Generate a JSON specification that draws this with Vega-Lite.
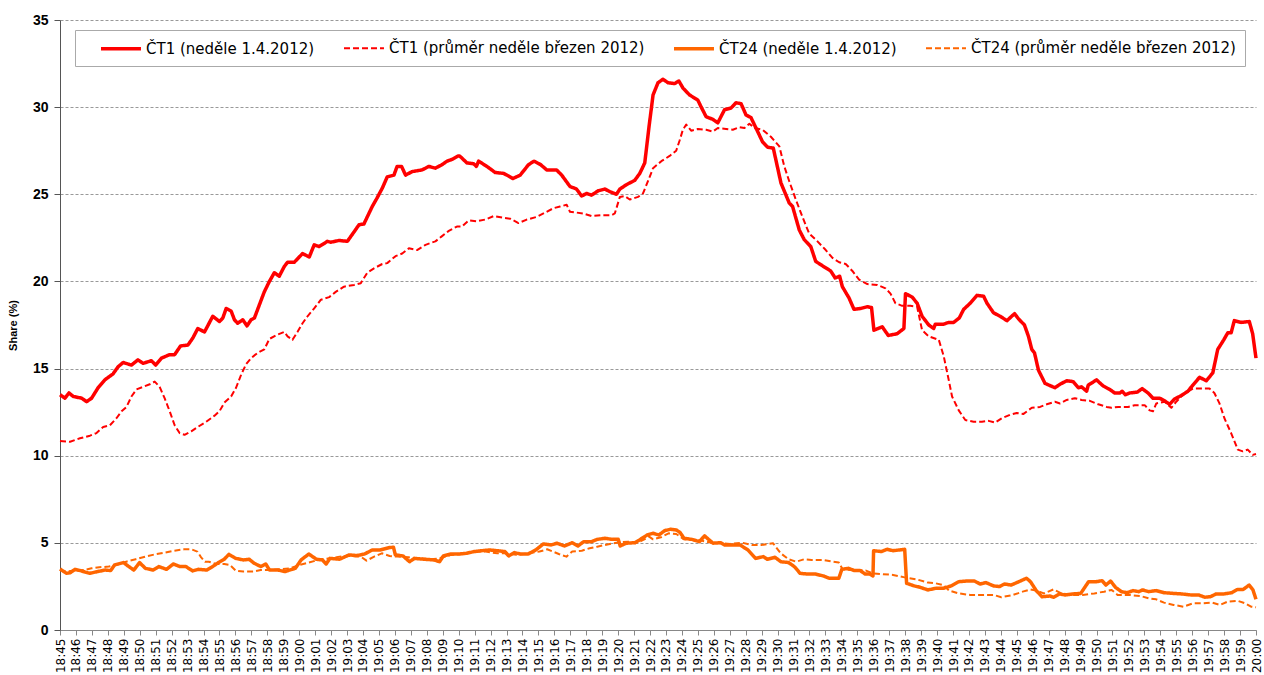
{
  "$schema": "https://vega.github.io/schema/vega-lite/v6.json",
  "width": 1196,
  "height": 610,
  "autosize": {"type": "none"},
  "padding": {"left": 60, "top": 20, "right": 8, "bottom": 45},
  "background": "white",
  "config": {
    "view": {"stroke": null},
    "font": "Liberation Sans"
  },
  "data": {
    "values": [
      {"series": "ČT1 (neděle 1.4.2012)", "minute": 0, "share": 13.5},
      {"series": "ČT1 (neděle 1.4.2012)", "minute": 0.31, "share": 13.3},
      {"series": "ČT1 (neděle 1.4.2012)", "minute": 0.56, "share": 13.6},
      {"series": "ČT1 (neděle 1.4.2012)", "minute": 0.83, "share": 13.4},
      {"series": "ČT1 (neděle 1.4.2012)", "minute": 1.36, "share": 13.3},
      {"series": "ČT1 (neděle 1.4.2012)", "minute": 1.67, "share": 13.1},
      {"series": "ČT1 (neděle 1.4.2012)", "minute": 1.98, "share": 13.3},
      {"series": "ČT1 (neděle 1.4.2012)", "minute": 2.39, "share": 13.9},
      {"series": "ČT1 (neděle 1.4.2012)", "minute": 2.81, "share": 14.35},
      {"series": "ČT1 (neděle 1.4.2012)", "minute": 3.33, "share": 14.7},
      {"series": "ČT1 (neděle 1.4.2012)", "minute": 3.64, "share": 15.1},
      {"series": "ČT1 (neděle 1.4.2012)", "minute": 3.96, "share": 15.35},
      {"series": "ČT1 (neděle 1.4.2012)", "minute": 4.48, "share": 15.2},
      {"series": "ČT1 (neděle 1.4.2012)", "minute": 4.89, "share": 15.5},
      {"series": "ČT1 (neděle 1.4.2012)", "minute": 5.21, "share": 15.3},
      {"series": "ČT1 (neděle 1.4.2012)", "minute": 5.73, "share": 15.45},
      {"series": "ČT1 (neděle 1.4.2012)", "minute": 6.0, "share": 15.2},
      {"series": "ČT1 (neděle 1.4.2012)", "minute": 6.36, "share": 15.6},
      {"series": "ČT1 (neděle 1.4.2012)", "minute": 6.88, "share": 15.8},
      {"series": "ČT1 (neděle 1.4.2012)", "minute": 7.19, "share": 15.8},
      {"series": "ČT1 (neděle 1.4.2012)", "minute": 7.56, "share": 16.3},
      {"series": "ČT1 (neděle 1.4.2012)", "minute": 8.02, "share": 16.35},
      {"series": "ČT1 (neděle 1.4.2012)", "minute": 8.33, "share": 16.75},
      {"series": "ČT1 (neděle 1.4.2012)", "minute": 8.64, "share": 17.3},
      {"series": "ČT1 (neděle 1.4.2012)", "minute": 9.06, "share": 17.1},
      {"series": "ČT1 (neděle 1.4.2012)", "minute": 9.58, "share": 18.0},
      {"series": "ČT1 (neděle 1.4.2012)", "minute": 10.0, "share": 17.7},
      {"series": "ČT1 (neděle 1.4.2012)", "minute": 10.21, "share": 17.9},
      {"series": "ČT1 (neděle 1.4.2012)", "minute": 10.42, "share": 18.45},
      {"series": "ČT1 (neděle 1.4.2012)", "minute": 10.73, "share": 18.3},
      {"series": "ČT1 (neděle 1.4.2012)", "minute": 10.94, "share": 17.8},
      {"series": "ČT1 (neděle 1.4.2012)", "minute": 11.14, "share": 17.6},
      {"series": "ČT1 (neděle 1.4.2012)", "minute": 11.46, "share": 17.8},
      {"series": "ČT1 (neděle 1.4.2012)", "minute": 11.73, "share": 17.45},
      {"series": "ČT1 (neděle 1.4.2012)", "minute": 11.98, "share": 17.8},
      {"series": "ČT1 (neděle 1.4.2012)", "minute": 12.19, "share": 17.9},
      {"series": "ČT1 (neděle 1.4.2012)", "minute": 12.5, "share": 18.65},
      {"series": "ČT1 (neděle 1.4.2012)", "minute": 12.81, "share": 19.4},
      {"series": "ČT1 (neděle 1.4.2012)", "minute": 13.13, "share": 20.0},
      {"series": "ČT1 (neděle 1.4.2012)", "minute": 13.44, "share": 20.5},
      {"series": "ČT1 (neděle 1.4.2012)", "minute": 13.75, "share": 20.3},
      {"series": "ČT1 (neděle 1.4.2012)", "minute": 14.06, "share": 20.85},
      {"series": "ČT1 (neděle 1.4.2012)", "minute": 14.27, "share": 21.1},
      {"series": "ČT1 (neděle 1.4.2012)", "minute": 14.69, "share": 21.1},
      {"series": "ČT1 (neděle 1.4.2012)", "minute": 15.21, "share": 21.6},
      {"series": "ČT1 (neděle 1.4.2012)", "minute": 15.63, "share": 21.4},
      {"series": "ČT1 (neděle 1.4.2012)", "minute": 15.94, "share": 22.1},
      {"series": "ČT1 (neděle 1.4.2012)", "minute": 16.25, "share": 22.0},
      {"series": "ČT1 (neděle 1.4.2012)", "minute": 16.77, "share": 22.3},
      {"series": "ČT1 (neděle 1.4.2012)", "minute": 16.98, "share": 22.25},
      {"series": "ČT1 (neděle 1.4.2012)", "minute": 17.5, "share": 22.35},
      {"series": "ČT1 (neděle 1.4.2012)", "minute": 18.02, "share": 22.3},
      {"series": "ČT1 (neděle 1.4.2012)", "minute": 18.33, "share": 22.7},
      {"series": "ČT1 (neděle 1.4.2012)", "minute": 18.75, "share": 23.25},
      {"series": "ČT1 (neděle 1.4.2012)", "minute": 19.06, "share": 23.3},
      {"series": "ČT1 (neděle 1.4.2012)", "minute": 19.58, "share": 24.3},
      {"series": "ČT1 (neděle 1.4.2012)", "minute": 19.89, "share": 24.8},
      {"series": "ČT1 (neděle 1.4.2012)", "minute": 20.21, "share": 25.35},
      {"series": "ČT1 (neděle 1.4.2012)", "minute": 20.52, "share": 26.0},
      {"series": "ČT1 (neděle 1.4.2012)", "minute": 20.94, "share": 26.1},
      {"series": "ČT1 (neděle 1.4.2012)", "minute": 21.14, "share": 26.6},
      {"series": "ČT1 (neděle 1.4.2012)", "minute": 21.42, "share": 26.6},
      {"series": "ČT1 (neděle 1.4.2012)", "minute": 21.67, "share": 26.1},
      {"series": "ČT1 (neděle 1.4.2012)", "minute": 22.08, "share": 26.3},
      {"series": "ČT1 (neděle 1.4.2012)", "minute": 22.71, "share": 26.4},
      {"series": "ČT1 (neděle 1.4.2012)", "minute": 23.13, "share": 26.6},
      {"series": "ČT1 (neděle 1.4.2012)", "minute": 23.54, "share": 26.5},
      {"series": "ČT1 (neděle 1.4.2012)", "minute": 23.96, "share": 26.7},
      {"series": "ČT1 (neděle 1.4.2012)", "minute": 24.27, "share": 26.9},
      {"series": "ČT1 (neděle 1.4.2012)", "minute": 24.58, "share": 27.0},
      {"series": "ČT1 (neděle 1.4.2012)", "minute": 24.96, "share": 27.2},
      {"series": "ČT1 (neděle 1.4.2012)", "minute": 25.06, "share": 27.2},
      {"series": "ČT1 (neděle 1.4.2012)", "minute": 25.52, "share": 26.8},
      {"series": "ČT1 (neděle 1.4.2012)", "minute": 25.94, "share": 26.75},
      {"series": "ČT1 (neděle 1.4.2012)", "minute": 26.11, "share": 26.6},
      {"series": "ČT1 (neděle 1.4.2012)", "minute": 26.25, "share": 26.9},
      {"series": "ČT1 (neděle 1.4.2012)", "minute": 26.77, "share": 26.6},
      {"series": "ČT1 (neděle 1.4.2012)", "minute": 27.29, "share": 26.25},
      {"series": "ČT1 (neděle 1.4.2012)", "minute": 27.81, "share": 26.2},
      {"series": "ČT1 (neděle 1.4.2012)", "minute": 28.13, "share": 26.05},
      {"series": "ČT1 (neděle 1.4.2012)", "minute": 28.39, "share": 25.9},
      {"series": "ČT1 (neděle 1.4.2012)", "minute": 28.86, "share": 26.1},
      {"series": "ČT1 (neděle 1.4.2012)", "minute": 29.38, "share": 26.7},
      {"series": "ČT1 (neděle 1.4.2012)", "minute": 29.73, "share": 26.9},
      {"series": "ČT1 (neděle 1.4.2012)", "minute": 30.14, "share": 26.7},
      {"series": "ČT1 (neděle 1.4.2012)", "minute": 30.52, "share": 26.4},
      {"series": "ČT1 (neděle 1.4.2012)", "minute": 31.14, "share": 26.4},
      {"series": "ČT1 (neděle 1.4.2012)", "minute": 31.46, "share": 26.1},
      {"series": "ČT1 (neděle 1.4.2012)", "minute": 31.98, "share": 25.45},
      {"series": "ČT1 (neděle 1.4.2012)", "minute": 32.39, "share": 25.3},
      {"series": "ČT1 (neděle 1.4.2012)", "minute": 32.71, "share": 24.9},
      {"series": "ČT1 (neděle 1.4.2012)", "minute": 33.02, "share": 25.05},
      {"series": "ČT1 (neděle 1.4.2012)", "minute": 33.33, "share": 24.95},
      {"series": "ČT1 (neděle 1.4.2012)", "minute": 33.75, "share": 25.2},
      {"series": "ČT1 (neděle 1.4.2012)", "minute": 34.17, "share": 25.3},
      {"series": "ČT1 (neděle 1.4.2012)", "minute": 34.48, "share": 25.15},
      {"series": "ČT1 (neděle 1.4.2012)", "minute": 34.89, "share": 25.0},
      {"series": "ČT1 (neděle 1.4.2012)", "minute": 35.11, "share": 25.3},
      {"series": "ČT1 (neděle 1.4.2012)", "minute": 35.52, "share": 25.55},
      {"series": "ČT1 (neděle 1.4.2012)", "minute": 36.04, "share": 25.8},
      {"series": "ČT1 (neděle 1.4.2012)", "minute": 36.36, "share": 26.2},
      {"series": "ČT1 (neděle 1.4.2012)", "minute": 36.67, "share": 26.8},
      {"series": "ČT1 (neděle 1.4.2012)", "minute": 36.94, "share": 28.9},
      {"series": "ČT1 (neděle 1.4.2012)", "minute": 37.19, "share": 30.7},
      {"series": "ČT1 (neděle 1.4.2012)", "minute": 37.5, "share": 31.4},
      {"series": "ČT1 (neděle 1.4.2012)", "minute": 37.81, "share": 31.6},
      {"series": "ČT1 (neděle 1.4.2012)", "minute": 38.13, "share": 31.4},
      {"series": "ČT1 (neděle 1.4.2012)", "minute": 38.54, "share": 31.35},
      {"series": "ČT1 (neděle 1.4.2012)", "minute": 38.81, "share": 31.5},
      {"series": "ČT1 (neděle 1.4.2012)", "minute": 39.06, "share": 31.1},
      {"series": "ČT1 (neděle 1.4.2012)", "minute": 39.48, "share": 30.7},
      {"series": "ČT1 (neděle 1.4.2012)", "minute": 40.0, "share": 30.4},
      {"series": "ČT1 (neděle 1.4.2012)", "minute": 40.21, "share": 30.0},
      {"series": "ČT1 (neděle 1.4.2012)", "minute": 40.52, "share": 29.45},
      {"series": "ČT1 (neděle 1.4.2012)", "minute": 40.94, "share": 29.3},
      {"series": "ČT1 (neděle 1.4.2012)", "minute": 41.25, "share": 29.1},
      {"series": "ČT1 (neděle 1.4.2012)", "minute": 41.67, "share": 29.85},
      {"series": "ČT1 (neděle 1.4.2012)", "minute": 42.08, "share": 29.95},
      {"series": "ČT1 (neděle 1.4.2012)", "minute": 42.39, "share": 30.25},
      {"series": "ČT1 (neděle 1.4.2012)", "minute": 42.71, "share": 30.2},
      {"series": "ČT1 (neděle 1.4.2012)", "minute": 43.02, "share": 29.55},
      {"series": "ČT1 (neděle 1.4.2012)", "minute": 43.33, "share": 29.4},
      {"series": "ČT1 (neděle 1.4.2012)", "minute": 43.75, "share": 28.6},
      {"series": "ČT1 (neděle 1.4.2012)", "minute": 44.06, "share": 28.0},
      {"series": "ČT1 (neděle 1.4.2012)", "minute": 44.38, "share": 27.7},
      {"series": "ČT1 (neděle 1.4.2012)", "minute": 44.73, "share": 27.65},
      {"series": "ČT1 (neděle 1.4.2012)", "minute": 45.21, "share": 25.65},
      {"series": "ČT1 (neděle 1.4.2012)", "minute": 45.73, "share": 24.5},
      {"series": "ČT1 (neděle 1.4.2012)", "minute": 45.94, "share": 24.3},
      {"series": "ČT1 (neděle 1.4.2012)", "minute": 46.36, "share": 22.95},
      {"series": "ČT1 (neděle 1.4.2012)", "minute": 46.67, "share": 22.4},
      {"series": "ČT1 (neděle 1.4.2012)", "minute": 47.08, "share": 22.0},
      {"series": "ČT1 (neděle 1.4.2012)", "minute": 47.39, "share": 21.15},
      {"series": "ČT1 (neděle 1.4.2012)", "minute": 47.81, "share": 20.9},
      {"series": "ČT1 (neděle 1.4.2012)", "minute": 48.33, "share": 20.6},
      {"series": "ČT1 (neděle 1.4.2012)", "minute": 48.61, "share": 20.2},
      {"series": "ČT1 (neděle 1.4.2012)", "minute": 48.89, "share": 20.3},
      {"series": "ČT1 (neděle 1.4.2012)", "minute": 49.06, "share": 19.7},
      {"series": "ČT1 (neděle 1.4.2012)", "minute": 49.48, "share": 19.05},
      {"series": "ČT1 (neděle 1.4.2012)", "minute": 49.79, "share": 18.4},
      {"series": "ČT1 (neděle 1.4.2012)", "minute": 50.21, "share": 18.45},
      {"series": "ČT1 (neděle 1.4.2012)", "minute": 50.63, "share": 18.55},
      {"series": "ČT1 (neděle 1.4.2012)", "minute": 50.89, "share": 18.5},
      {"series": "ČT1 (neděle 1.4.2012)", "minute": 51.04, "share": 17.2},
      {"series": "ČT1 (neděle 1.4.2012)", "minute": 51.56, "share": 17.4},
      {"series": "ČT1 (neděle 1.4.2012)", "minute": 51.94, "share": 16.9},
      {"series": "ČT1 (neděle 1.4.2012)", "minute": 52.5, "share": 17.0},
      {"series": "ČT1 (neděle 1.4.2012)", "minute": 52.92, "share": 17.3},
      {"series": "ČT1 (neděle 1.4.2012)", "minute": 53.02, "share": 19.3},
      {"series": "ČT1 (neděle 1.4.2012)", "minute": 53.44, "share": 19.1},
      {"series": "ČT1 (neděle 1.4.2012)", "minute": 53.75, "share": 18.75},
      {"series": "ČT1 (neděle 1.4.2012)", "minute": 54.06, "share": 18.0},
      {"series": "ČT1 (neděle 1.4.2012)", "minute": 54.48, "share": 17.5},
      {"series": "ČT1 (neděle 1.4.2012)", "minute": 54.79, "share": 17.3},
      {"series": "ČT1 (neděle 1.4.2012)", "minute": 54.89, "share": 17.55},
      {"series": "ČT1 (neděle 1.4.2012)", "minute": 55.42, "share": 17.55},
      {"series": "ČT1 (neděle 1.4.2012)", "minute": 55.73, "share": 17.65},
      {"series": "ČT1 (neděle 1.4.2012)", "minute": 56.04, "share": 17.65},
      {"series": "ČT1 (neděle 1.4.2012)", "minute": 56.39, "share": 17.9},
      {"series": "ČT1 (neděle 1.4.2012)", "minute": 56.67, "share": 18.4},
      {"series": "ČT1 (neděle 1.4.2012)", "minute": 57.08, "share": 18.75},
      {"series": "ČT1 (neděle 1.4.2012)", "minute": 57.5, "share": 19.2},
      {"series": "ČT1 (neděle 1.4.2012)", "minute": 57.92, "share": 19.15},
      {"series": "ČT1 (neděle 1.4.2012)", "minute": 58.13, "share": 18.75},
      {"series": "ČT1 (neděle 1.4.2012)", "minute": 58.54, "share": 18.2},
      {"series": "ČT1 (neděle 1.4.2012)", "minute": 58.96, "share": 18.0},
      {"series": "ČT1 (neděle 1.4.2012)", "minute": 59.38, "share": 17.75},
      {"series": "ČT1 (neděle 1.4.2012)", "minute": 59.86, "share": 18.15},
      {"series": "ČT1 (neděle 1.4.2012)", "minute": 60.11, "share": 17.85},
      {"series": "ČT1 (neděle 1.4.2012)", "minute": 60.48, "share": 17.5},
      {"series": "ČT1 (neděle 1.4.2012)", "minute": 60.73, "share": 16.85},
      {"series": "ČT1 (neděle 1.4.2012)", "minute": 60.94, "share": 16.1},
      {"series": "ČT1 (neděle 1.4.2012)", "minute": 61.11, "share": 15.9},
      {"series": "ČT1 (neděle 1.4.2012)", "minute": 61.36, "share": 14.9},
      {"series": "ČT1 (neděle 1.4.2012)", "minute": 61.77, "share": 14.15},
      {"series": "ČT1 (neděle 1.4.2012)", "minute": 62.39, "share": 13.9},
      {"series": "ČT1 (neděle 1.4.2012)", "minute": 62.71, "share": 14.1},
      {"series": "ČT1 (neděle 1.4.2012)", "minute": 63.13, "share": 14.3},
      {"series": "ČT1 (neděle 1.4.2012)", "minute": 63.54, "share": 14.25},
      {"series": "ČT1 (neděle 1.4.2012)", "minute": 63.86, "share": 13.9},
      {"series": "ČT1 (neděle 1.4.2012)", "minute": 64.06, "share": 13.95},
      {"series": "ČT1 (neděle 1.4.2012)", "minute": 64.38, "share": 13.7},
      {"series": "ČT1 (neděle 1.4.2012)", "minute": 64.48, "share": 14.05},
      {"series": "ČT1 (neděle 1.4.2012)", "minute": 65.0, "share": 14.35},
      {"series": "ČT1 (neděle 1.4.2012)", "minute": 65.42, "share": 14.0},
      {"series": "ČT1 (neděle 1.4.2012)", "minute": 65.83, "share": 13.8},
      {"series": "ČT1 (neděle 1.4.2012)", "minute": 66.14, "share": 13.6},
      {"series": "ČT1 (neděle 1.4.2012)", "minute": 66.46, "share": 13.6},
      {"series": "ČT1 (neděle 1.4.2012)", "minute": 66.61, "share": 13.7},
      {"series": "ČT1 (neděle 1.4.2012)", "minute": 66.81, "share": 13.5},
      {"series": "ČT1 (neděle 1.4.2012)", "minute": 67.08, "share": 13.6},
      {"series": "ČT1 (neděle 1.4.2012)", "minute": 67.56, "share": 13.65},
      {"series": "ČT1 (neděle 1.4.2012)", "minute": 67.86, "share": 13.85},
      {"series": "ČT1 (neděle 1.4.2012)", "minute": 68.23, "share": 13.6},
      {"series": "ČT1 (neděle 1.4.2012)", "minute": 68.54, "share": 13.3},
      {"series": "ČT1 (neděle 1.4.2012)", "minute": 68.96, "share": 13.3},
      {"series": "ČT1 (neděle 1.4.2012)", "minute": 69.27, "share": 13.15},
      {"series": "ČT1 (neděle 1.4.2012)", "minute": 69.58, "share": 12.95},
      {"series": "ČT1 (neděle 1.4.2012)", "minute": 69.89, "share": 13.25},
      {"series": "ČT1 (neděle 1.4.2012)", "minute": 70.31, "share": 13.45},
      {"series": "ČT1 (neděle 1.4.2012)", "minute": 70.73, "share": 13.7},
      {"series": "ČT1 (neděle 1.4.2012)", "minute": 71.04, "share": 14.05},
      {"series": "ČT1 (neděle 1.4.2012)", "minute": 71.46, "share": 14.5},
      {"series": "ČT1 (neděle 1.4.2012)", "minute": 71.88, "share": 14.3},
      {"series": "ČT1 (neděle 1.4.2012)", "minute": 72.29, "share": 14.75},
      {"series": "ČT1 (neděle 1.4.2012)", "minute": 72.6, "share": 16.1},
      {"series": "ČT1 (neděle 1.4.2012)", "minute": 72.98, "share": 16.65},
      {"series": "ČT1 (neděle 1.4.2012)", "minute": 73.23, "share": 17.05},
      {"series": "ČT1 (neděle 1.4.2012)", "minute": 73.44, "share": 17.05},
      {"series": "ČT1 (neděle 1.4.2012)", "minute": 73.64, "share": 17.75},
      {"series": "ČT1 (neděle 1.4.2012)", "minute": 74.06, "share": 17.65},
      {"series": "ČT1 (neděle 1.4.2012)", "minute": 74.58, "share": 17.7},
      {"series": "ČT1 (neděle 1.4.2012)", "minute": 74.79, "share": 17.0},
      {"series": "ČT1 (neděle 1.4.2012)", "minute": 75, "share": 15.6},

      {"series": "ČT1 (průměr neděle březen 2012)", "minute": 0, "share": 10.85},
      {"series": "ČT1 (průměr neděle březen 2012)", "minute": 0.63, "share": 10.8},
      {"series": "ČT1 (průměr neděle březen 2012)", "minute": 1.25, "share": 11.0},
      {"series": "ČT1 (průměr neděle březen 2012)", "minute": 1.88, "share": 11.15},
      {"series": "ČT1 (průměr neděle březen 2012)", "minute": 2.29, "share": 11.3},
      {"series": "ČT1 (průměr neděle březen 2012)", "minute": 2.71, "share": 11.65},
      {"series": "ČT1 (průměr neděle březen 2012)", "minute": 3.13, "share": 11.75},
      {"series": "ČT1 (průměr neděle březen 2012)", "minute": 3.54, "share": 12.15},
      {"series": "ČT1 (průměr neděle březen 2012)", "minute": 3.86, "share": 12.55},
      {"series": "ČT1 (průměr neděle březen 2012)", "minute": 4.17, "share": 12.8},
      {"series": "ČT1 (průměr neděle březen 2012)", "minute": 4.48, "share": 13.4},
      {"series": "ČT1 (průměr neděle březen 2012)", "minute": 4.79, "share": 13.8},
      {"series": "ČT1 (průměr neděle březen 2012)", "minute": 5.21, "share": 13.95},
      {"series": "ČT1 (průměr neděle březen 2012)", "minute": 5.63, "share": 14.1},
      {"series": "ČT1 (průměr neděle březen 2012)", "minute": 5.94, "share": 14.25},
      {"series": "ČT1 (průměr neděle březen 2012)", "minute": 6.25, "share": 13.95},
      {"series": "ČT1 (průměr neděle březen 2012)", "minute": 6.56, "share": 13.3},
      {"series": "ČT1 (průměr neděle březen 2012)", "minute": 6.88, "share": 12.55},
      {"series": "ČT1 (průměr neděle březen 2012)", "minute": 7.19, "share": 11.75},
      {"series": "ČT1 (průměr neděle březen 2012)", "minute": 7.5, "share": 11.3},
      {"series": "ČT1 (průměr neděle březen 2012)", "minute": 7.81, "share": 11.2},
      {"series": "ČT1 (průměr neděle březen 2012)", "minute": 8.23, "share": 11.4},
      {"series": "ČT1 (průměr neděle březen 2012)", "minute": 8.64, "share": 11.65},
      {"series": "ČT1 (průměr neděle březen 2012)", "minute": 9.17, "share": 11.95},
      {"series": "ČT1 (průměr neděle březen 2012)", "minute": 9.69, "share": 12.3},
      {"series": "ČT1 (průměr neděle březen 2012)", "minute": 10.0, "share": 12.55},
      {"series": "ČT1 (průměr neděle březen 2012)", "minute": 10.31, "share": 13.05},
      {"series": "ČT1 (průměr neděle březen 2012)", "minute": 10.73, "share": 13.4},
      {"series": "ČT1 (průměr neděle březen 2012)", "minute": 11.04, "share": 13.9},
      {"series": "ČT1 (průměr neděle březen 2012)", "minute": 11.36, "share": 14.65},
      {"series": "ČT1 (průměr neděle březen 2012)", "minute": 11.67, "share": 15.25},
      {"series": "ČT1 (průměr neděle březen 2012)", "minute": 11.98, "share": 15.6},
      {"series": "ČT1 (průměr neděle březen 2012)", "minute": 12.39, "share": 15.9},
      {"series": "ČT1 (průměr neděle březen 2012)", "minute": 12.81, "share": 16.1},
      {"series": "ČT1 (průměr neděle březen 2012)", "minute": 13.13, "share": 16.7},
      {"series": "ČT1 (průměr neděle březen 2012)", "minute": 13.64, "share": 16.95},
      {"series": "ČT1 (průměr neděle březen 2012)", "minute": 14.06, "share": 17.1},
      {"series": "ČT1 (průměr neděle březen 2012)", "minute": 14.27, "share": 16.85},
      {"series": "ČT1 (průměr neděle březen 2012)", "minute": 14.58, "share": 16.65},
      {"series": "ČT1 (průměr neděle březen 2012)", "minute": 14.89, "share": 17.1},
      {"series": "ČT1 (průměr neděle březen 2012)", "minute": 15.21, "share": 17.6},
      {"series": "ČT1 (průměr neděle březen 2012)", "minute": 15.52, "share": 18.0},
      {"series": "ČT1 (průměr neděle březen 2012)", "minute": 15.94, "share": 18.45},
      {"series": "ČT1 (průměr neděle březen 2012)", "minute": 16.36, "share": 18.95},
      {"series": "ČT1 (průměr neděle březen 2012)", "minute": 16.88, "share": 19.1},
      {"series": "ČT1 (průměr neděle březen 2012)", "minute": 17.29, "share": 19.4},
      {"series": "ČT1 (průměr neděle březen 2012)", "minute": 17.81, "share": 19.7},
      {"series": "ČT1 (průměr neděle březen 2012)", "minute": 18.44, "share": 19.8},
      {"series": "ČT1 (průměr neděle březen 2012)", "minute": 18.86, "share": 19.9},
      {"series": "ČT1 (průměr neděle březen 2012)", "minute": 19.27, "share": 20.5},
      {"series": "ČT1 (průměr neděle březen 2012)", "minute": 19.69, "share": 20.75},
      {"series": "ČT1 (průměr neděle březen 2012)", "minute": 20.21, "share": 21.0},
      {"series": "ČT1 (průměr neděle březen 2012)", "minute": 20.52, "share": 21.05},
      {"series": "ČT1 (průměr neděle březen 2012)", "minute": 21.04, "share": 21.45},
      {"series": "ČT1 (průměr neděle březen 2012)", "minute": 21.46, "share": 21.6},
      {"series": "ČT1 (průměr neděle březen 2012)", "minute": 21.88, "share": 21.9},
      {"series": "ČT1 (průměr neděle březen 2012)", "minute": 22.39, "share": 21.8},
      {"series": "ČT1 (průměr neděle březen 2012)", "minute": 22.92, "share": 22.1},
      {"series": "ČT1 (průměr neděle březen 2012)", "minute": 23.54, "share": 22.3},
      {"series": "ČT1 (průměr neděle březen 2012)", "minute": 23.96, "share": 22.6},
      {"series": "ČT1 (průměr neděle březen 2012)", "minute": 24.38, "share": 22.9},
      {"series": "ČT1 (průměr neděle březen 2012)", "minute": 24.89, "share": 23.15},
      {"series": "ČT1 (průměr neděle březen 2012)", "minute": 25.21, "share": 23.15},
      {"series": "ČT1 (průměr neděle březen 2012)", "minute": 25.63, "share": 23.5},
      {"series": "ČT1 (průměr neděle březen 2012)", "minute": 26.14, "share": 23.45},
      {"series": "ČT1 (průměr neděle březen 2012)", "minute": 26.67, "share": 23.55},
      {"series": "ČT1 (průměr neděle březen 2012)", "minute": 27.19, "share": 23.75},
      {"series": "ČT1 (průměr neděle březen 2012)", "minute": 27.81, "share": 23.65},
      {"series": "ČT1 (průměr neděle březen 2012)", "minute": 28.23, "share": 23.6},
      {"series": "ČT1 (průměr neděle březen 2012)", "minute": 28.75, "share": 23.35},
      {"series": "ČT1 (průměr neděle březen 2012)", "minute": 29.27, "share": 23.55},
      {"series": "ČT1 (průměr neděle březen 2012)", "minute": 29.89, "share": 23.7},
      {"series": "ČT1 (průměr neděle březen 2012)", "minute": 30.42, "share": 23.95},
      {"series": "ČT1 (průměr neděle březen 2012)", "minute": 30.94, "share": 24.2},
      {"series": "ČT1 (průměr neděle březen 2012)", "minute": 31.36, "share": 24.3},
      {"series": "ČT1 (průměr neděle březen 2012)", "minute": 31.77, "share": 24.4},
      {"series": "ČT1 (průměr neděle březen 2012)", "minute": 31.98, "share": 24.0},
      {"series": "ČT1 (průměr neděle březen 2012)", "minute": 32.39, "share": 23.95},
      {"series": "ČT1 (průměr neděle březen 2012)", "minute": 32.81, "share": 23.9},
      {"series": "ČT1 (průměr neděle březen 2012)", "minute": 33.33, "share": 23.75},
      {"series": "ČT1 (průměr neděle březen 2012)", "minute": 33.96, "share": 23.8},
      {"series": "ČT1 (průměr neděle březen 2012)", "minute": 34.58, "share": 23.8},
      {"series": "ČT1 (průměr neděle březen 2012)", "minute": 34.79, "share": 23.9},
      {"series": "ČT1 (průměr neděle březen 2012)", "minute": 35.11, "share": 24.85},
      {"series": "ČT1 (průměr neděle březen 2012)", "minute": 35.42, "share": 24.9},
      {"series": "ČT1 (průměr neděle březen 2012)", "minute": 35.73, "share": 24.7},
      {"series": "ČT1 (průměr neděle březen 2012)", "minute": 36.25, "share": 24.85},
      {"series": "ČT1 (průměr neděle březen 2012)", "minute": 36.56, "share": 25.05},
      {"series": "ČT1 (průměr neděle březen 2012)", "minute": 36.98, "share": 26.0},
      {"series": "ČT1 (průměr neděle březen 2012)", "minute": 37.19, "share": 26.5},
      {"series": "ČT1 (průměr neděle březen 2012)", "minute": 37.71, "share": 26.9},
      {"series": "ČT1 (průměr neděle březen 2012)", "minute": 38.23, "share": 27.2},
      {"series": "ČT1 (průměr neděle březen 2012)", "minute": 38.64, "share": 27.5},
      {"series": "ČT1 (průměr neděle březen 2012)", "minute": 38.86, "share": 28.1},
      {"series": "ČT1 (průměr neděle březen 2012)", "minute": 39.06, "share": 28.7},
      {"series": "ČT1 (průměr neděle březen 2012)", "minute": 39.27, "share": 29.0},
      {"series": "ČT1 (průměr neděle březen 2012)", "minute": 39.58, "share": 28.65},
      {"series": "ČT1 (průměr neděle březen 2012)", "minute": 40.0, "share": 28.75},
      {"series": "ČT1 (průměr neděle březen 2012)", "minute": 40.52, "share": 28.7},
      {"series": "ČT1 (průměr neděle březen 2012)", "minute": 40.94, "share": 28.6},
      {"series": "ČT1 (průměr neděle březen 2012)", "minute": 41.25, "share": 28.8},
      {"series": "ČT1 (průměr neděle březen 2012)", "minute": 41.77, "share": 28.75},
      {"series": "ČT1 (průměr neděle březen 2012)", "minute": 42.19, "share": 28.7},
      {"series": "ČT1 (průměr neděle březen 2012)", "minute": 42.61, "share": 28.85},
      {"series": "ČT1 (průměr neděle březen 2012)", "minute": 42.92, "share": 28.8},
      {"series": "ČT1 (průměr neděle březen 2012)", "minute": 43.23, "share": 29.05},
      {"series": "ČT1 (průměr neděle březen 2012)", "minute": 43.54, "share": 28.8},
      {"series": "ČT1 (průměr neděle březen 2012)", "minute": 44.06, "share": 28.7},
      {"series": "ČT1 (průměr neděle březen 2012)", "minute": 44.58, "share": 28.3},
      {"series": "ČT1 (průměr neděle březen 2012)", "minute": 45.11, "share": 27.75},
      {"series": "ČT1 (průměr neděle březen 2012)", "minute": 45.42, "share": 26.6},
      {"series": "ČT1 (průměr neděle březen 2012)", "minute": 45.73, "share": 25.75},
      {"series": "ČT1 (průměr neděle březen 2012)", "minute": 46.14, "share": 24.7},
      {"series": "ČT1 (průměr neděle březen 2012)", "minute": 46.56, "share": 23.7},
      {"series": "ČT1 (průměr neděle březen 2012)", "minute": 46.98, "share": 22.75},
      {"series": "ČT1 (průměr neděle březen 2012)", "minute": 47.5, "share": 22.3},
      {"series": "ČT1 (průměr neděle březen 2012)", "minute": 48.02, "share": 21.8},
      {"series": "ČT1 (průměr neděle březen 2012)", "minute": 48.44, "share": 21.35},
      {"series": "ČT1 (průměr neděle březen 2012)", "minute": 48.86, "share": 21.1},
      {"series": "ČT1 (průměr neděle březen 2012)", "minute": 49.27, "share": 21.0},
      {"series": "ČT1 (průměr neděle březen 2012)", "minute": 49.69, "share": 20.6},
      {"series": "ČT1 (průměr neděle březen 2012)", "minute": 50.11, "share": 20.1},
      {"series": "ČT1 (průměr neděle březen 2012)", "minute": 50.63, "share": 19.85},
      {"series": "ČT1 (průměr neděle březen 2012)", "minute": 51.25, "share": 19.8},
      {"series": "ČT1 (průměr neděle březen 2012)", "minute": 51.77, "share": 19.6},
      {"series": "ČT1 (průměr neděle březen 2012)", "minute": 52.08, "share": 19.3},
      {"series": "ČT1 (průměr neděle březen 2012)", "minute": 52.39, "share": 18.75},
      {"series": "ČT1 (průměr neděle březen 2012)", "minute": 52.81, "share": 18.6},
      {"series": "ČT1 (průměr neděle březen 2012)", "minute": 53.33, "share": 18.6},
      {"series": "ČT1 (průměr neděle březen 2012)", "minute": 53.75, "share": 18.55},
      {"series": "ČT1 (průměr neděle březen 2012)", "minute": 54.06, "share": 17.2},
      {"series": "ČT1 (průměr neděle březen 2012)", "minute": 54.48, "share": 16.85},
      {"series": "ČT1 (průměr neděle březen 2012)", "minute": 55.11, "share": 16.65},
      {"series": "ČT1 (průměr neděle březen 2012)", "minute": 55.42, "share": 15.7},
      {"series": "ČT1 (průměr neděle březen 2012)", "minute": 55.73, "share": 14.35},
      {"series": "ČT1 (průměr neděle březen 2012)", "minute": 55.94, "share": 13.4},
      {"series": "ČT1 (průměr neděle březen 2012)", "minute": 56.36, "share": 12.6},
      {"series": "ČT1 (průměr neděle březen 2012)", "minute": 56.77, "share": 12.05},
      {"series": "ČT1 (průměr neděle březen 2012)", "minute": 57.29, "share": 11.95},
      {"series": "ČT1 (průměr neděle březen 2012)", "minute": 57.81, "share": 11.95},
      {"series": "ČT1 (průměr neděle březen 2012)", "minute": 58.23, "share": 12.0},
      {"series": "ČT1 (průměr neděle březen 2012)", "minute": 58.64, "share": 11.9},
      {"series": "ČT1 (průměr neděle březen 2012)", "minute": 59.06, "share": 12.15},
      {"series": "ČT1 (průměr neděle březen 2012)", "minute": 59.58, "share": 12.35},
      {"series": "ČT1 (průměr neděle březen 2012)", "minute": 60.0, "share": 12.45},
      {"series": "ČT1 (průměr neděle březen 2012)", "minute": 60.42, "share": 12.4},
      {"series": "ČT1 (průměr neděle březen 2012)", "minute": 60.94, "share": 12.75},
      {"series": "ČT1 (průměr neděle březen 2012)", "minute": 61.46, "share": 12.8},
      {"series": "ČT1 (průměr neděle březen 2012)", "minute": 61.88, "share": 12.95},
      {"series": "ČT1 (průměr neděle březen 2012)", "minute": 62.39, "share": 13.1},
      {"series": "ČT1 (průměr neděle březen 2012)", "minute": 62.71, "share": 13.0},
      {"series": "ČT1 (průměr neděle březen 2012)", "minute": 63.13, "share": 13.2},
      {"series": "ČT1 (průměr neděle březen 2012)", "minute": 63.64, "share": 13.3},
      {"series": "ČT1 (průměr neděle březen 2012)", "minute": 64.06, "share": 13.2},
      {"series": "ČT1 (průměr neděle březen 2012)", "minute": 64.58, "share": 13.15},
      {"series": "ČT1 (průměr neděle březen 2012)", "minute": 65.11, "share": 12.95},
      {"series": "ČT1 (průměr neděle březen 2012)", "minute": 65.63, "share": 12.8},
      {"series": "ČT1 (průměr neděle březen 2012)", "minute": 65.94, "share": 12.75},
      {"series": "ČT1 (průměr neděle březen 2012)", "minute": 66.36, "share": 12.8},
      {"series": "ČT1 (průměr neděle březen 2012)", "minute": 66.98, "share": 12.8},
      {"series": "ČT1 (průměr neděle březen 2012)", "minute": 67.39, "share": 12.9},
      {"series": "ČT1 (průměr neděle březen 2012)", "minute": 68.02, "share": 12.9},
      {"series": "ČT1 (průměr neděle březen 2012)", "minute": 68.33, "share": 12.6},
      {"series": "ČT1 (průměr neděle březen 2012)", "minute": 68.54, "share": 12.55},
      {"series": "ČT1 (průměr neděle březen 2012)", "minute": 68.75, "share": 13.0},
      {"series": "ČT1 (průměr neděle březen 2012)", "minute": 69.27, "share": 13.1},
      {"series": "ČT1 (průměr neděle březen 2012)", "minute": 69.69, "share": 12.75},
      {"series": "ČT1 (průměr neděle březen 2012)", "minute": 70.0, "share": 13.1},
      {"series": "ČT1 (průměr neděle březen 2012)", "minute": 70.42, "share": 13.5},
      {"series": "ČT1 (průměr neděle březen 2012)", "minute": 71.04, "share": 13.85},
      {"series": "ČT1 (průměr neděle březen 2012)", "minute": 71.46, "share": 13.85},
      {"series": "ČT1 (průměr neděle březen 2012)", "minute": 72.08, "share": 13.85},
      {"series": "ČT1 (průměr neděle březen 2012)", "minute": 72.39, "share": 13.6},
      {"series": "ČT1 (průměr neděle březen 2012)", "minute": 72.71, "share": 13.0},
      {"series": "ČT1 (průměr neděle březen 2012)", "minute": 73.02, "share": 12.15},
      {"series": "ČT1 (průměr neděle březen 2012)", "minute": 73.44, "share": 11.3},
      {"series": "ČT1 (průměr neděle březen 2012)", "minute": 73.86, "share": 10.35},
      {"series": "ČT1 (průměr neděle březen 2012)", "minute": 74.17, "share": 10.25},
      {"series": "ČT1 (průměr neděle březen 2012)", "minute": 74.48, "share": 10.35},
      {"series": "ČT1 (průměr neděle březen 2012)", "minute": 74.79, "share": 10.05},
      {"series": "ČT1 (průměr neděle březen 2012)", "minute": 75, "share": 10.1},

      {"series": "ČT24 (neděle 1.4.2012)", "minute": 0, "share": 3.5},
      {"series": "ČT24 (neděle 1.4.2012)", "minute": 0.41, "share": 3.25},
      {"series": "ČT24 (neděle 1.4.2012)", "minute": 0.65, "share": 3.29},
      {"series": "ČT24 (neděle 1.4.2012)", "minute": 0.94, "share": 3.48},
      {"series": "ČT24 (neděle 1.4.2012)", "minute": 1.26, "share": 3.41},
      {"series": "ČT24 (neděle 1.4.2012)", "minute": 1.86, "share": 3.25},
      {"series": "ČT24 (neděle 1.4.2012)", "minute": 2.34, "share": 3.35},
      {"series": "ČT24 (neděle 1.4.2012)", "minute": 2.82, "share": 3.44},
      {"series": "ČT24 (neděle 1.4.2012)", "minute": 3.18, "share": 3.41},
      {"series": "ČT24 (neděle 1.4.2012)", "minute": 3.42, "share": 3.73},
      {"series": "ČT24 (neděle 1.4.2012)", "minute": 3.98, "share": 3.87},
      {"series": "ČT24 (neděle 1.4.2012)", "minute": 4.27, "share": 3.67},
      {"series": "ČT24 (neděle 1.4.2012)", "minute": 4.63, "share": 3.44},
      {"series": "ČT24 (neděle 1.4.2012)", "minute": 4.99, "share": 3.87},
      {"series": "ČT24 (neděle 1.4.2012)", "minute": 5.35, "share": 3.54},
      {"series": "ČT24 (neděle 1.4.2012)", "minute": 5.84, "share": 3.44},
      {"series": "ČT24 (neděle 1.4.2012)", "minute": 6.2, "share": 3.64},
      {"series": "ČT24 (neděle 1.4.2012)", "minute": 6.68, "share": 3.48},
      {"series": "ČT24 (neděle 1.4.2012)", "minute": 7.11, "share": 3.79},
      {"series": "ČT24 (neděle 1.4.2012)", "minute": 7.52, "share": 3.64},
      {"series": "ČT24 (neděle 1.4.2012)", "minute": 7.89, "share": 3.64},
      {"series": "ČT24 (neděle 1.4.2012)", "minute": 8.32, "share": 3.39},
      {"series": "ČT24 (neděle 1.4.2012)", "minute": 8.66, "share": 3.48},
      {"series": "ČT24 (neděle 1.4.2012)", "minute": 9.21, "share": 3.44},
      {"series": "ČT24 (neděle 1.4.2012)", "minute": 9.57, "share": 3.64},
      {"series": "ČT24 (neděle 1.4.2012)", "minute": 9.94, "share": 3.87},
      {"series": "ČT24 (neděle 1.4.2012)", "minute": 10.3, "share": 4.06},
      {"series": "ČT24 (neděle 1.4.2012)", "minute": 10.59, "share": 4.34},
      {"series": "ČT24 (neděle 1.4.2012)", "minute": 11.02, "share": 4.11},
      {"series": "ČT24 (neděle 1.4.2012)", "minute": 11.5, "share": 4.02},
      {"series": "ČT24 (neděle 1.4.2012)", "minute": 11.86, "share": 4.06},
      {"series": "ČT24 (neděle 1.4.2012)", "minute": 12.18, "share": 3.83},
      {"series": "ČT24 (neděle 1.4.2012)", "minute": 12.59, "share": 3.64},
      {"series": "ČT24 (neděle 1.4.2012)", "minute": 12.9, "share": 3.79},
      {"series": "ČT24 (neděle 1.4.2012)", "minute": 13.14, "share": 3.44},
      {"series": "ČT24 (neděle 1.4.2012)", "minute": 13.67, "share": 3.44},
      {"series": "ČT24 (neděle 1.4.2012)", "minute": 14.11, "share": 3.35},
      {"series": "ČT24 (neděle 1.4.2012)", "minute": 14.4, "share": 3.44},
      {"series": "ČT24 (neděle 1.4.2012)", "minute": 14.76, "share": 3.54},
      {"series": "ČT24 (neděle 1.4.2012)", "minute": 15.12, "share": 4.02},
      {"series": "ČT24 (neděle 1.4.2012)", "minute": 15.6, "share": 4.36},
      {"series": "ČT24 (neděle 1.4.2012)", "minute": 16.08, "share": 4.06},
      {"series": "ČT24 (neděle 1.4.2012)", "minute": 16.45, "share": 4.02},
      {"series": "ČT24 (neděle 1.4.2012)", "minute": 16.69, "share": 3.79},
      {"series": "ČT24 (neděle 1.4.2012)", "minute": 16.93, "share": 4.11},
      {"series": "ČT24 (neděle 1.4.2012)", "minute": 17.53, "share": 4.06},
      {"series": "ČT24 (neděle 1.4.2012)", "minute": 18.13, "share": 4.31},
      {"series": "ČT24 (neděle 1.4.2012)", "minute": 18.62, "share": 4.27},
      {"series": "ČT24 (neděle 1.4.2012)", "minute": 19.1, "share": 4.36},
      {"series": "ČT24 (neděle 1.4.2012)", "minute": 19.58, "share": 4.59},
      {"series": "ČT24 (neděle 1.4.2012)", "minute": 20.06, "share": 4.59},
      {"series": "ČT24 (neděle 1.4.2012)", "minute": 20.67, "share": 4.73},
      {"series": "ČT24 (neděle 1.4.2012)", "minute": 20.91, "share": 4.75},
      {"series": "ČT24 (neděle 1.4.2012)", "minute": 21.03, "share": 4.31},
      {"series": "ČT24 (neděle 1.4.2012)", "minute": 21.51, "share": 4.25},
      {"series": "ČT24 (neděle 1.4.2012)", "minute": 21.92, "share": 3.92},
      {"series": "ČT24 (neděle 1.4.2012)", "minute": 22.23, "share": 4.11},
      {"series": "ČT24 (neděle 1.4.2012)", "minute": 22.84, "share": 4.06},
      {"series": "ČT24 (neděle 1.4.2012)", "minute": 23.44, "share": 4.02},
      {"series": "ČT24 (neděle 1.4.2012)", "minute": 23.8, "share": 3.92},
      {"series": "ČT24 (neděle 1.4.2012)", "minute": 24.04, "share": 4.25},
      {"series": "ČT24 (neděle 1.4.2012)", "minute": 24.52, "share": 4.36},
      {"series": "ČT24 (neděle 1.4.2012)", "minute": 25.01, "share": 4.36},
      {"series": "ČT24 (neděle 1.4.2012)", "minute": 25.49, "share": 4.4},
      {"series": "ČT24 (neděle 1.4.2012)", "minute": 25.97, "share": 4.5},
      {"series": "ČT24 (neděle 1.4.2012)", "minute": 26.45, "share": 4.55},
      {"series": "ČT24 (neděle 1.4.2012)", "minute": 26.94, "share": 4.59},
      {"series": "ČT24 (neděle 1.4.2012)", "minute": 27.54, "share": 4.54},
      {"series": "ČT24 (neděle 1.4.2012)", "minute": 27.9, "share": 4.5},
      {"series": "ČT24 (neděle 1.4.2012)", "minute": 28.14, "share": 4.25},
      {"series": "ČT24 (neděle 1.4.2012)", "minute": 28.5, "share": 4.44},
      {"series": "ČT24 (neděle 1.4.2012)", "minute": 28.87, "share": 4.36},
      {"series": "ČT24 (neděle 1.4.2012)", "minute": 29.35, "share": 4.36},
      {"series": "ČT24 (neděle 1.4.2012)", "minute": 29.83, "share": 4.59},
      {"series": "ČT24 (neděle 1.4.2012)", "minute": 30.31, "share": 4.94},
      {"series": "ČT24 (neděle 1.4.2012)", "minute": 30.8, "share": 4.88},
      {"series": "ČT24 (neděle 1.4.2012)", "minute": 31.16, "share": 4.98},
      {"series": "ČT24 (neděle 1.4.2012)", "minute": 31.64, "share": 4.82},
      {"series": "ČT24 (neděle 1.4.2012)", "minute": 32.12, "share": 5.01},
      {"series": "ČT24 (neděle 1.4.2012)", "minute": 32.48, "share": 4.82},
      {"series": "ČT24 (neděle 1.4.2012)", "minute": 32.84, "share": 5.07},
      {"series": "ČT24 (neděle 1.4.2012)", "minute": 33.33, "share": 5.07},
      {"series": "ČT24 (neděle 1.4.2012)", "minute": 33.69, "share": 5.2},
      {"series": "ČT24 (neděle 1.4.2012)", "minute": 34.17, "share": 5.26},
      {"series": "ČT24 (neděle 1.4.2012)", "minute": 34.65, "share": 5.2},
      {"series": "ČT24 (neděle 1.4.2012)", "minute": 35.01, "share": 5.2},
      {"series": "ČT24 (neděle 1.4.2012)", "minute": 35.13, "share": 4.82},
      {"series": "ČT24 (neděle 1.4.2012)", "minute": 35.5, "share": 4.98},
      {"series": "ČT24 (neděle 1.4.2012)", "minute": 36.05, "share": 5.01},
      {"series": "ČT24 (neděle 1.4.2012)", "minute": 36.34, "share": 5.17},
      {"series": "ČT24 (neděle 1.4.2012)", "minute": 36.82, "share": 5.45},
      {"series": "ČT24 (neděle 1.4.2012)", "minute": 37.19, "share": 5.55},
      {"series": "ČT24 (neděle 1.4.2012)", "minute": 37.55, "share": 5.45},
      {"series": "ČT24 (neděle 1.4.2012)", "minute": 37.92, "share": 5.7},
      {"series": "ČT24 (neděle 1.4.2012)", "minute": 38.28, "share": 5.78},
      {"series": "ČT24 (neděle 1.4.2012)", "minute": 38.65, "share": 5.74},
      {"series": "ČT24 (neděle 1.4.2012)", "minute": 38.89, "share": 5.59},
      {"series": "ČT24 (neděle 1.4.2012)", "minute": 39.13, "share": 5.26},
      {"series": "ČT24 (neděle 1.4.2012)", "minute": 39.62, "share": 5.2},
      {"series": "ČT24 (neděle 1.4.2012)", "minute": 40.1, "share": 5.07},
      {"series": "ČT24 (neděle 1.4.2012)", "minute": 40.42, "share": 5.4},
      {"series": "ČT24 (neděle 1.4.2012)", "minute": 40.95, "share": 4.98},
      {"series": "ČT24 (neděle 1.4.2012)", "minute": 41.44, "share": 5.01},
      {"series": "ČT24 (neděle 1.4.2012)", "minute": 41.68, "share": 4.88},
      {"series": "ČT24 (neděle 1.4.2012)", "minute": 42.17, "share": 4.88},
      {"series": "ČT24 (neděle 1.4.2012)", "minute": 42.65, "share": 4.88},
      {"series": "ČT24 (neděle 1.4.2012)", "minute": 43.14, "share": 4.59},
      {"series": "ČT24 (neděle 1.4.2012)", "minute": 43.62, "share": 4.11},
      {"series": "ČT24 (neděle 1.4.2012)", "minute": 44.11, "share": 4.21},
      {"series": "ČT24 (neděle 1.4.2012)", "minute": 44.35, "share": 4.06},
      {"series": "ČT24 (neděle 1.4.2012)", "minute": 44.84, "share": 4.17},
      {"series": "ČT24 (neděle 1.4.2012)", "minute": 45.2, "share": 3.92},
      {"series": "ČT24 (neděle 1.4.2012)", "minute": 45.69, "share": 3.87},
      {"series": "ČT24 (neděle 1.4.2012)", "minute": 46.05, "share": 3.64},
      {"series": "ČT24 (neděle 1.4.2012)", "minute": 46.41, "share": 3.25},
      {"series": "ČT24 (neděle 1.4.2012)", "minute": 46.9, "share": 3.21},
      {"series": "ČT24 (neděle 1.4.2012)", "minute": 47.38, "share": 3.21},
      {"series": "ČT24 (neděle 1.4.2012)", "minute": 47.87, "share": 3.1},
      {"series": "ČT24 (neděle 1.4.2012)", "minute": 48.23, "share": 2.97},
      {"series": "ČT24 (neděle 1.4.2012)", "minute": 48.84, "share": 2.97},
      {"series": "ČT24 (neděle 1.4.2012)", "minute": 49.03, "share": 3.48},
      {"series": "ČT24 (neděle 1.4.2012)", "minute": 49.45, "share": 3.54},
      {"series": "ČT24 (neděle 1.4.2012)", "minute": 49.81, "share": 3.41},
      {"series": "ČT24 (neděle 1.4.2012)", "minute": 50.18, "share": 3.41},
      {"series": "ČT24 (neděle 1.4.2012)", "minute": 50.49, "share": 3.21},
      {"series": "ČT24 (neděle 1.4.2012)", "minute": 50.78, "share": 3.21},
      {"series": "ČT24 (neděle 1.4.2012)", "minute": 50.98, "share": 3.1},
      {"series": "ČT24 (neděle 1.4.2012)", "minute": 51.02, "share": 4.55},
      {"series": "ČT24 (neděle 1.4.2012)", "minute": 51.51, "share": 4.5},
      {"series": "ČT24 (neděle 1.4.2012)", "minute": 51.87, "share": 4.63},
      {"series": "ČT24 (neděle 1.4.2012)", "minute": 52.24, "share": 4.55},
      {"series": "ČT24 (neděle 1.4.2012)", "minute": 52.97, "share": 4.63},
      {"series": "ČT24 (neděle 1.4.2012)", "minute": 53.09, "share": 2.68},
      {"series": "ČT24 (neděle 1.4.2012)", "minute": 53.57, "share": 2.53},
      {"series": "ČT24 (neděle 1.4.2012)", "minute": 53.94, "share": 2.45},
      {"series": "ČT24 (neděle 1.4.2012)", "minute": 54.42, "share": 2.3},
      {"series": "ČT24 (neděle 1.4.2012)", "minute": 54.91, "share": 2.39},
      {"series": "ČT24 (neděle 1.4.2012)", "minute": 55.39, "share": 2.39},
      {"series": "ČT24 (neděle 1.4.2012)", "minute": 55.88, "share": 2.53},
      {"series": "ČT24 (neděle 1.4.2012)", "minute": 56.36, "share": 2.77},
      {"series": "ČT24 (neděle 1.4.2012)", "minute": 56.85, "share": 2.81},
      {"series": "ČT24 (neděle 1.4.2012)", "minute": 57.34, "share": 2.81},
      {"series": "ČT24 (neděle 1.4.2012)", "minute": 57.7, "share": 2.64},
      {"series": "ČT24 (neděle 1.4.2012)", "minute": 58.06, "share": 2.72},
      {"series": "ČT24 (neděle 1.4.2012)", "minute": 58.55, "share": 2.53},
      {"series": "ČT24 (neděle 1.4.2012)", "minute": 58.91, "share": 2.49},
      {"series": "ČT24 (neděle 1.4.2012)", "minute": 59.23, "share": 2.64},
      {"series": "ČT24 (neděle 1.4.2012)", "minute": 59.64, "share": 2.58},
      {"series": "ČT24 (neděle 1.4.2012)", "minute": 60.13, "share": 2.77},
      {"series": "ČT24 (neděle 1.4.2012)", "minute": 60.61, "share": 2.97},
      {"series": "ČT24 (neděle 1.4.2012)", "minute": 60.86, "share": 2.77},
      {"series": "ČT24 (neděle 1.4.2012)", "minute": 61.22, "share": 2.26},
      {"series": "ČT24 (neděle 1.4.2012)", "minute": 61.58, "share": 1.91},
      {"series": "ČT24 (neděle 1.4.2012)", "minute": 62.07, "share": 1.95},
      {"series": "ČT24 (neděle 1.4.2012)", "minute": 62.31, "share": 1.88},
      {"series": "ČT24 (neděle 1.4.2012)", "minute": 62.68, "share": 2.07},
      {"series": "ČT24 (neděle 1.4.2012)", "minute": 63.04, "share": 2.01},
      {"series": "ČT24 (neděle 1.4.2012)", "minute": 63.53, "share": 2.07},
      {"series": "ČT24 (neděle 1.4.2012)", "minute": 64.01, "share": 2.1},
      {"series": "ČT24 (neděle 1.4.2012)", "minute": 64.5, "share": 2.77},
      {"series": "ČT24 (neděle 1.4.2012)", "minute": 64.98, "share": 2.77},
      {"series": "ČT24 (neděle 1.4.2012)", "minute": 65.35, "share": 2.83},
      {"series": "ČT24 (neděle 1.4.2012)", "minute": 65.59, "share": 2.58},
      {"series": "ČT24 (neděle 1.4.2012)", "minute": 65.88, "share": 2.81},
      {"series": "ČT24 (neděle 1.4.2012)", "minute": 66.19, "share": 2.45},
      {"series": "ČT24 (neděle 1.4.2012)", "minute": 66.56, "share": 2.2},
      {"series": "ČT24 (neděle 1.4.2012)", "minute": 66.92, "share": 2.14},
      {"series": "ČT24 (neděle 1.4.2012)", "minute": 67.29, "share": 2.26},
      {"series": "ČT24 (neděle 1.4.2012)", "minute": 67.65, "share": 2.2},
      {"series": "ČT24 (neděle 1.4.2012)", "minute": 67.89, "share": 2.3},
      {"series": "ČT24 (neděle 1.4.2012)", "minute": 68.26, "share": 2.2},
      {"series": "ČT24 (neděle 1.4.2012)", "minute": 68.74, "share": 2.26},
      {"series": "ČT24 (neděle 1.4.2012)", "minute": 69.23, "share": 2.14},
      {"series": "ČT24 (neděle 1.4.2012)", "minute": 69.83, "share": 2.1},
      {"series": "ČT24 (neděle 1.4.2012)", "minute": 70.32, "share": 2.07},
      {"series": "ČT24 (neděle 1.4.2012)", "minute": 70.93, "share": 2.01},
      {"series": "ČT24 (neděle 1.4.2012)", "minute": 71.41, "share": 2.01},
      {"series": "ČT24 (neděle 1.4.2012)", "minute": 71.78, "share": 1.88},
      {"series": "ČT24 (neděle 1.4.2012)", "minute": 72.14, "share": 1.91},
      {"series": "ČT24 (neděle 1.4.2012)", "minute": 72.5, "share": 2.07},
      {"series": "ČT24 (neděle 1.4.2012)", "minute": 72.99, "share": 2.07},
      {"series": "ČT24 (neděle 1.4.2012)", "minute": 73.48, "share": 2.14},
      {"series": "ČT24 (neděle 1.4.2012)", "minute": 73.84, "share": 2.33},
      {"series": "ČT24 (neděle 1.4.2012)", "minute": 74.2, "share": 2.33},
      {"series": "ČT24 (neděle 1.4.2012)", "minute": 74.57, "share": 2.58},
      {"series": "ČT24 (neděle 1.4.2012)", "minute": 74.81, "share": 2.3},
      {"series": "ČT24 (neděle 1.4.2012)", "minute": 75, "share": 1.76},

      {"series": "ČT24 (průměr neděle březen 2012)", "minute": 0, "share": 3.44},
      {"series": "ČT24 (průměr neděle březen 2012)", "minute": 0.3, "share": 3.35},
      {"series": "ČT24 (průměr neděle březen 2012)", "minute": 0.89, "share": 3.41},
      {"series": "ČT24 (průměr neděle březen 2012)", "minute": 1.5, "share": 3.44},
      {"series": "ČT24 (průměr neděle březen 2012)", "minute": 1.98, "share": 3.54},
      {"series": "ČT24 (průměr neděle březen 2012)", "minute": 2.46, "share": 3.6},
      {"series": "ČT24 (průměr neděle březen 2012)", "minute": 3.06, "share": 3.64},
      {"series": "ČT24 (průměr neděle březen 2012)", "minute": 3.67, "share": 3.77},
      {"series": "ČT24 (průměr neděle březen 2012)", "minute": 4.15, "share": 3.92},
      {"series": "ČT24 (průměr neděle březen 2012)", "minute": 4.75, "share": 4.06},
      {"series": "ČT24 (průměr neděle březen 2012)", "minute": 5.35, "share": 4.21},
      {"series": "ČT24 (průměr neděle březen 2012)", "minute": 5.96, "share": 4.34},
      {"series": "ČT24 (průměr neděle březen 2012)", "minute": 6.56, "share": 4.44},
      {"series": "ČT24 (průměr neděle březen 2012)", "minute": 7.16, "share": 4.55},
      {"series": "ČT24 (průměr neděle březen 2012)", "minute": 7.77, "share": 4.63},
      {"series": "ČT24 (průměr neděle březen 2012)", "minute": 8.25, "share": 4.63},
      {"series": "ČT24 (průměr neděle březen 2012)", "minute": 8.61, "share": 4.5},
      {"series": "ČT24 (průměr neděle březen 2012)", "minute": 8.85, "share": 4.17},
      {"series": "ČT24 (průměr neděle březen 2012)", "minute": 9.09, "share": 3.92},
      {"series": "ČT24 (průměr neděle březen 2012)", "minute": 9.33, "share": 3.92},
      {"series": "ČT24 (průměr neděle březen 2012)", "minute": 9.82, "share": 3.79},
      {"series": "ČT24 (průměr neděle březen 2012)", "minute": 10.3, "share": 3.79},
      {"series": "ČT24 (průměr neděle březen 2012)", "minute": 10.66, "share": 3.73},
      {"series": "ČT24 (průměr neděle březen 2012)", "minute": 11.02, "share": 3.41},
      {"series": "ČT24 (průměr neděle březen 2012)", "minute": 11.5, "share": 3.35},
      {"series": "ČT24 (průměr neděle březen 2012)", "minute": 12.11, "share": 3.35},
      {"series": "ČT24 (průměr neděle březen 2012)", "minute": 12.59, "share": 3.44},
      {"series": "ČT24 (průměr neděle březen 2012)", "minute": 13.19, "share": 3.44},
      {"series": "ČT24 (průměr neděle březen 2012)", "minute": 13.79, "share": 3.48},
      {"series": "ČT24 (průměr neděle březen 2012)", "minute": 14.4, "share": 3.54},
      {"series": "ČT24 (průměr neděle březen 2012)", "minute": 15.0, "share": 3.73},
      {"series": "ČT24 (průměr neděle březen 2012)", "minute": 15.6, "share": 3.87},
      {"series": "ČT24 (průměr neděle březen 2012)", "minute": 16.33, "share": 4.06},
      {"series": "ČT24 (průměr neděle březen 2012)", "minute": 16.93, "share": 4.11},
      {"series": "ČT24 (průměr neděle březen 2012)", "minute": 17.53, "share": 4.21},
      {"series": "ČT24 (průměr neděle březen 2012)", "minute": 18.13, "share": 4.25},
      {"series": "ČT24 (průměr neděle březen 2012)", "minute": 18.86, "share": 4.21},
      {"series": "ČT24 (průměr neděle březen 2012)", "minute": 19.22, "share": 3.98},
      {"series": "ČT24 (průměr neděle březen 2012)", "minute": 19.7, "share": 4.21},
      {"series": "ČT24 (průměr neděle březen 2012)", "minute": 20.18, "share": 4.4},
      {"series": "ČT24 (průměr neděle březen 2012)", "minute": 20.67, "share": 4.25},
      {"series": "ČT24 (průměr neděle březen 2012)", "minute": 21.15, "share": 4.21},
      {"series": "ČT24 (průměr neděle březen 2012)", "minute": 21.87, "share": 4.17},
      {"series": "ČT24 (průměr neděle březen 2012)", "minute": 22.48, "share": 4.11},
      {"series": "ČT24 (průměr neděle březen 2012)", "minute": 23.2, "share": 4.06},
      {"series": "ČT24 (průměr neděle březen 2012)", "minute": 23.8, "share": 4.11},
      {"series": "ČT24 (průměr neděle březen 2012)", "minute": 24.52, "share": 4.31},
      {"series": "ČT24 (průměr neděle březen 2012)", "minute": 25.25, "share": 4.36},
      {"series": "ČT24 (průměr neděle březen 2012)", "minute": 25.97, "share": 4.5},
      {"series": "ČT24 (průměr neděle březen 2012)", "minute": 26.69, "share": 4.5},
      {"series": "ČT24 (průměr neděle březen 2012)", "minute": 27.42, "share": 4.4},
      {"series": "ČT24 (průměr neděle březen 2012)", "minute": 27.9, "share": 4.4},
      {"series": "ČT24 (průměr neděle březen 2012)", "minute": 28.62, "share": 4.31},
      {"series": "ČT24 (průměr neděle březen 2012)", "minute": 29.35, "share": 4.4},
      {"series": "ČT24 (průměr neděle březen 2012)", "minute": 30.07, "share": 4.5},
      {"series": "ČT24 (průměr neděle březen 2012)", "minute": 30.55, "share": 4.63},
      {"series": "ČT24 (průměr neděle březen 2012)", "minute": 30.92, "share": 4.5},
      {"series": "ČT24 (průměr neděle březen 2012)", "minute": 31.28, "share": 4.36},
      {"series": "ČT24 (průměr neděle březen 2012)", "minute": 31.76, "share": 4.21},
      {"series": "ČT24 (průměr neděle březen 2012)", "minute": 32.12, "share": 4.5},
      {"series": "ČT24 (průměr neděle březen 2012)", "minute": 32.72, "share": 4.55},
      {"series": "ČT24 (průměr neděle březen 2012)", "minute": 33.21, "share": 4.69},
      {"series": "ČT24 (průměr neděle březen 2012)", "minute": 33.69, "share": 4.78},
      {"series": "ČT24 (průměr neděle březen 2012)", "minute": 34.17, "share": 4.88},
      {"series": "ČT24 (průměr neděle březen 2012)", "minute": 34.89, "share": 5.01},
      {"series": "ČT24 (průměr neděle březen 2012)", "minute": 35.62, "share": 5.07},
      {"series": "ČT24 (průměr neděle březen 2012)", "minute": 36.1, "share": 4.98},
      {"series": "ČT24 (průměr neděle březen 2012)", "minute": 36.58, "share": 5.17},
      {"series": "ČT24 (průměr neděle březen 2012)", "minute": 36.94, "share": 5.36},
      {"series": "ČT24 (průměr neděle březen 2012)", "minute": 37.19, "share": 5.2},
      {"series": "ČT24 (průměr neděle březen 2012)", "minute": 37.68, "share": 5.32},
      {"series": "ČT24 (průměr neděle březen 2012)", "minute": 38.16, "share": 5.55},
      {"series": "ČT24 (průměr neděle březen 2012)", "minute": 38.65, "share": 5.51},
      {"series": "ČT24 (průměr neděle březen 2012)", "minute": 39.13, "share": 5.2},
      {"series": "ČT24 (průměr neděle březen 2012)", "minute": 39.62, "share": 5.17},
      {"series": "ČT24 (průměr neděle březen 2012)", "minute": 40.22, "share": 5.13},
      {"series": "ČT24 (průměr neděle březen 2012)", "minute": 40.83, "share": 5.01},
      {"series": "ČT24 (průměr neděle březen 2012)", "minute": 41.44, "share": 4.98},
      {"series": "ČT24 (průměr neděle březen 2012)", "minute": 42.04, "share": 4.94},
      {"series": "ČT24 (průměr neděle březen 2012)", "minute": 42.77, "share": 5.01},
      {"series": "ČT24 (průměr neděle březen 2012)", "minute": 43.38, "share": 4.88},
      {"series": "ČT24 (průměr neděle březen 2012)", "minute": 43.99, "share": 4.88},
      {"series": "ČT24 (průměr neděle březen 2012)", "minute": 44.71, "share": 4.98},
      {"series": "ČT24 (průměr neděle březen 2012)", "minute": 45.2, "share": 4.4},
      {"series": "ČT24 (průměr neděle březen 2012)", "minute": 45.69, "share": 4.06},
      {"series": "ČT24 (průměr neděle březen 2012)", "minute": 46.17, "share": 3.92},
      {"series": "ČT24 (průměr neděle březen 2012)", "minute": 46.66, "share": 4.06},
      {"series": "ČT24 (průměr neděle březen 2012)", "minute": 47.14, "share": 4.02},
      {"series": "ČT24 (průměr neděle březen 2012)", "minute": 47.87, "share": 4.02},
      {"series": "ČT24 (průměr neděle březen 2012)", "minute": 48.48, "share": 3.92},
      {"series": "ČT24 (průměr neděle březen 2012)", "minute": 48.84, "share": 3.87},
      {"series": "ČT24 (průměr neděle březen 2012)", "minute": 49.08, "share": 3.48},
      {"series": "ČT24 (průměr neděle březen 2012)", "minute": 49.57, "share": 3.44},
      {"series": "ČT24 (průměr neděle březen 2012)", "minute": 50.06, "share": 3.44},
      {"series": "ČT24 (průměr neděle březen 2012)", "minute": 50.54, "share": 3.41},
      {"series": "ČT24 (průměr neděle březen 2012)", "minute": 50.98, "share": 3.25},
      {"series": "ČT24 (průměr neděle březen 2012)", "minute": 51.51, "share": 3.21},
      {"series": "ČT24 (průměr neděle březen 2012)", "minute": 52.24, "share": 3.16},
      {"series": "ČT24 (průměr neděle březen 2012)", "minute": 52.97, "share": 3.02},
      {"series": "ČT24 (průměr neděle březen 2012)", "minute": 53.7, "share": 2.91},
      {"series": "ČT24 (průměr neděle březen 2012)", "minute": 54.42, "share": 2.72},
      {"series": "ČT24 (průměr neděle březen 2012)", "minute": 54.91, "share": 2.68},
      {"series": "ČT24 (průměr neděle březen 2012)", "minute": 55.39, "share": 2.58},
      {"series": "ČT24 (průměr neděle březen 2012)", "minute": 55.76, "share": 2.26},
      {"series": "ČT24 (průměr neděle březen 2012)", "minute": 56.36, "share": 2.1},
      {"series": "ČT24 (průměr neděle březen 2012)", "minute": 57.09, "share": 2.01},
      {"series": "ČT24 (průměr neděle březen 2012)", "minute": 57.82, "share": 2.01},
      {"series": "ČT24 (průměr neděle březen 2012)", "minute": 58.55, "share": 2.01},
      {"series": "ČT24 (průměr neděle březen 2012)", "minute": 59.03, "share": 1.88},
      {"series": "ČT24 (průměr neděle březen 2012)", "minute": 59.76, "share": 2.01},
      {"series": "ČT24 (průměr neděle březen 2012)", "minute": 60.37, "share": 2.2},
      {"series": "ČT24 (průměr neděle březen 2012)", "minute": 60.86, "share": 2.33},
      {"series": "ČT24 (průměr neděle březen 2012)", "minute": 61.22, "share": 2.26},
      {"series": "ČT24 (průměr neděle březen 2012)", "minute": 61.7, "share": 2.1},
      {"series": "ČT24 (průměr neděle březen 2012)", "minute": 62.31, "share": 2.33},
      {"series": "ČT24 (průměr neděle březen 2012)", "minute": 62.8, "share": 2.1},
      {"series": "ČT24 (průměr neděle březen 2012)", "minute": 63.41, "share": 2.01},
      {"series": "ČT24 (průměr neděle březen 2012)", "minute": 64.13, "share": 2.01},
      {"series": "ČT24 (průměr neděle březen 2012)", "minute": 64.86, "share": 2.1},
      {"series": "ČT24 (průměr neděle březen 2012)", "minute": 65.47, "share": 2.2},
      {"series": "ČT24 (průměr neděle březen 2012)", "minute": 65.95, "share": 2.3},
      {"series": "ČT24 (průměr neděle březen 2012)", "minute": 66.32, "share": 2.01},
      {"series": "ČT24 (průměr neděle březen 2012)", "minute": 67.05, "share": 2.01},
      {"series": "ČT24 (průměr neděle březen 2012)", "minute": 67.77, "share": 1.95},
      {"series": "ČT24 (průměr neděle březen 2012)", "minute": 68.26, "share": 1.82},
      {"series": "ČT24 (průměr neděle březen 2012)", "minute": 68.74, "share": 1.76},
      {"series": "ČT24 (průměr neděle březen 2012)", "minute": 69.23, "share": 1.57},
      {"series": "ČT24 (průměr neděle březen 2012)", "minute": 69.83, "share": 1.44},
      {"series": "ČT24 (průměr neděle březen 2012)", "minute": 70.44, "share": 1.34},
      {"series": "ČT24 (průměr neděle březen 2012)", "minute": 71.05, "share": 1.53},
      {"series": "ČT24 (průměr neděle březen 2012)", "minute": 71.65, "share": 1.53},
      {"series": "ČT24 (průměr neděle březen 2012)", "minute": 72.26, "share": 1.57},
      {"series": "ČT24 (průměr neděle březen 2012)", "minute": 72.75, "share": 1.44},
      {"series": "ČT24 (průměr neděle březen 2012)", "minute": 73.23, "share": 1.63},
      {"series": "ČT24 (průměr neděle březen 2012)", "minute": 73.84, "share": 1.68},
      {"series": "ČT24 (průměr neděle březen 2012)", "minute": 74.32, "share": 1.53},
      {"series": "ČT24 (průměr neděle březen 2012)", "minute": 74.69, "share": 1.34},
      {"series": "ČT24 (průměr neděle březen 2012)", "minute": 75, "share": 1.3}
    ]
  },
  "mark": {"type": "line", "strokeJoin": "round", "strokeCap": "butt"},
  "encoding": {
    "x": {
      "field": "minute",
      "type": "quantitative",
      "scale": {"domain": [0, 75], "nice": false, "zero": false},
      "axis": {
        "title": null,
        "tickCount": 75,
        "labelExpr": "(18 + floor((45 + datum.value) / 60)) + ':' + (((45 + datum.value) % 60) < 10 ? '0' : '') + ((45 + datum.value) % 60)",
        "labelAngle": -90,
        "labelFontSize": 12,
        "labelColor": "#000000",
        "labelFont": "DejaVu Sans",
        "labelOverlap": false,
        "labelFlush": false,
        "labelPadding": 3,
        "tickSize": 5,
        "tickColor": "#888888",
        "domainColor": "#888888",
        "grid": false
      }
    },
    "y": {
      "field": "share",
      "type": "quantitative",
      "scale": {"domain": [0, 35], "nice": false},
      "axis": {
        "title": "Share (%)",
        "titleFont": "Liberation Sans",
        "titleFontSize": 11,
        "titleFontWeight": "bold",
        "titleColor": "#000000",
        "titlePadding": 14,
        "values": [0, 5, 10, 15, 20, 25, 30, 35],
        "labelFont": "Liberation Sans",
        "labelFontSize": 14,
        "labelFontWeight": "bold",
        "labelColor": "#000000",
        "labelPadding": 6,
        "tickSize": 6,
        "tickColor": "#555555",
        "domainColor": "#555555",
        "grid": true,
        "gridColor": "#999999",
        "gridDash": [3, 2],
        "gridWidth": 1
      }
    },
    "color": {
      "field": "series",
      "type": "nominal",
      "scale": {
        "domain": ["ČT1 (neděle 1.4.2012)", "ČT1 (průměr neděle březen 2012)", "ČT24 (neděle 1.4.2012)", "ČT24 (průměr neděle březen 2012)"],
        "range": ["#FF0000", "#FF0000", "#FF6600", "#FF6600"]
      },
      "legend": {
        "title": null,
        "orient": "none",
        "legendX": 15,
        "legendY": 10,
        "direction": "horizontal",
        "columns": 4,
        "columnPadding": 12,
        "padding": 9,
        "strokeColor": "#AAAAAA",
        "fillColor": "#FFFFFF",
        "symbolType": "M1,0L6.33,0",
        "symbolSize": 225,
        "labelFont": "DejaVu Sans",
        "labelFontSize": 15,
        "labelColor": "#000000",
        "labelOffset": 43,
        "labelLimit": 400
      }
    },
    "strokeDash": {
      "field": "series",
      "type": "nominal",
      "scale": {
        "domain": ["ČT1 (neděle 1.4.2012)", "ČT1 (průměr neděle březen 2012)", "ČT24 (neděle 1.4.2012)", "ČT24 (průměr neděle březen 2012)"],
        "range": [[1, 0], [6, 3], [1, 0], [6, 3]]
      }
    },
    "strokeWidth": {
      "field": "series",
      "type": "nominal",
      "scale": {
        "type": "ordinal",
        "domain": ["ČT1 (neděle 1.4.2012)", "ČT1 (průměr neděle březen 2012)", "ČT24 (neděle 1.4.2012)", "ČT24 (průměr neděle březen 2012)"],
        "range": [3.5, 2, 3.5, 2]
      }
    }
  }
}
